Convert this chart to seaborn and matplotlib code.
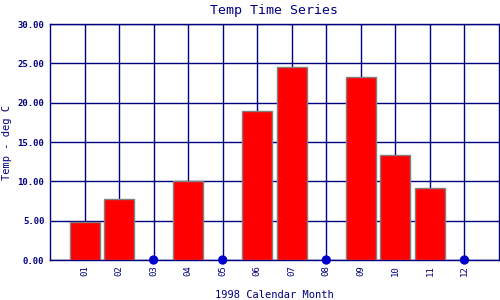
import numpy as np
import pandas as pd
import matplotlib
matplotlib.use("Agg")
import matplotlib.pyplot as plt
import seaborn as sns

months = ["01", "02", "03", "04", "05", "06", "07", "08", "09", "10", "11", "12"]
temps = [4.8, 7.7, np.nan, 10.1, np.nan, 18.9, 24.5, np.nan, 23.2, 13.4, 9.2, np.nan]
yticks = [0, 5, 10, 15, 20, 25, 30]

sns.set_theme(style="white")
plt.rcParams['font.family'] = ['DejaVu Sans Mono', 'DejaVu Sans']

navy = "#000080"
df = pd.DataFrame({"month": months, "temp": temps})

fig = plt.figure(figsize=(5, 3), dpi=100)
ax = fig.add_axes([0.1, 0.1333, 0.898, 0.7867])

# x positions 1..12 on a 0..13 axis
df["pos"] = np.arange(1, len(months) + 1)
sns.barplot(data=df, x="pos", y="temp", native_scale=True,
            color="#ff0000", edgecolor="#808080", linewidth=1.0, width=0.87,
            saturation=1, ax=ax, zorder=3)
missing = df[df["temp"].isna()]
sns.scatterplot(x=missing["pos"], y=np.zeros(len(missing)), color="#0000cc",
                s=45, edgecolor="none", ax=ax, zorder=5, clip_on=False)

ax.set_xlim(0, 13)
ax.set_ylim(0, 30)
ax.set_xticks(df["pos"])
ax.set_xticklabels(months, rotation=90, fontsize=6.5, color=navy)
ax.set_yticks(yticks)
ax.set_yticklabels([f"{v:.2f}" for v in yticks], fontsize=6.5, color=navy, fontweight="bold")
ax.tick_params(axis="both", length=0, pad=4)
ax.grid(True, color=navy, linewidth=1.0, zorder=0)
ax.set_axisbelow(True)
for s in ax.spines.values():
    s.set_color(navy)
    s.set_linewidth(1.0)

ax.set_title("Temp Time Series", fontsize=9.5, color=navy, pad=7)
ax.set_xlabel("1998 Calendar Month", fontsize=7.5, color=navy, labelpad=10)
ax.set_ylabel("Temp - deg C", fontsize=7.5, color=navy)
ax.yaxis.set_label_coords(-0.085, 0.5)

fig.savefig("out.png", dpi=100)
